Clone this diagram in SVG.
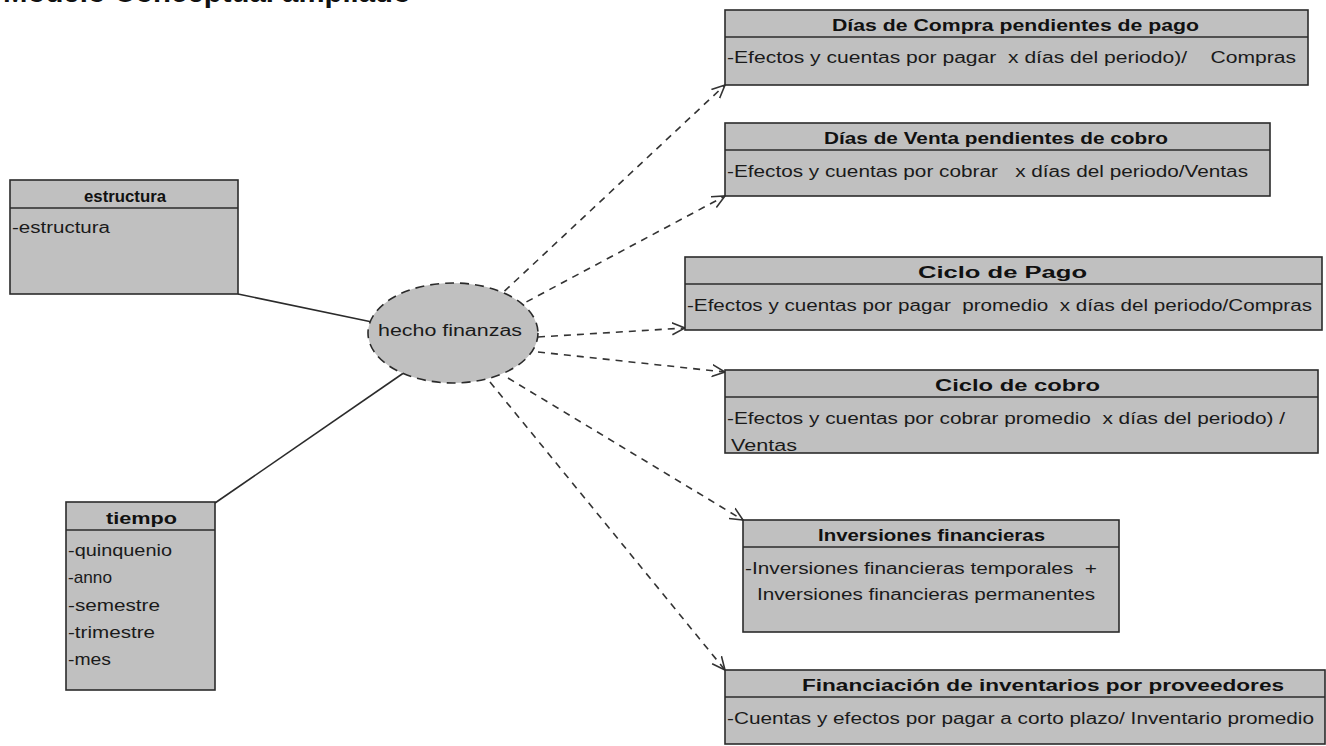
<svg xmlns="http://www.w3.org/2000/svg" width="1326" height="746" viewBox="0 0 1326 746">
  <style>
    .box { fill: #c0c0c0; stroke: #2b2b2b; stroke-width: 1.6; }
    .div { stroke: #2b2b2b; stroke-width: 1.6; }
    .ttl { font-family: "Liberation Sans", Arial, sans-serif; font-size: 16px; font-weight: bold; fill: #111; }
    .txt { font-family: "Liberation Sans", Arial, sans-serif; font-size: 16px; fill: #1a1a1a; }
    .item { font-family: "Liberation Sans", Arial, sans-serif; font-size: 17px; fill: #1a1a1a; }
    .solid { stroke: #2b2b2b; stroke-width: 1.6; fill: none; }
    .dash { stroke: #333; stroke-width: 1.6; fill: none; stroke-dasharray: 7 6; marker-end: url(#open); }
  </style>
  <defs>
    <marker id="open" viewBox="0 0 14 14" refX="13" refY="7" markerWidth="14" markerHeight="14" markerUnits="userSpaceOnUse" orient="auto">
      <path d="M0,1 L13,7 L0,13" fill="none" stroke="#333" stroke-width="1.6"/>
    </marker>
  </defs>
  <rect width="1326" height="746" fill="#ffffff"/>

  <!-- heading, clipped by the top edge -->
  <text x="3" y="1.5" font-family="Liberation Sans, Arial, sans-serif" font-size="29" font-weight="bold" fill="#111" textLength="408" lengthAdjust="spacingAndGlyphs">Modelo Conceptual ampliado</text>

  <!-- connectors -->
  <g id="connectors">
    <line class="solid" x1="238" y1="294" x2="372" y2="322"/>
    <line class="solid" x1="215" y1="503" x2="405" y2="372"/>
    <line class="dash" x1="495" y1="300" x2="725" y2="85"/>
    <line class="dash" x1="515" y1="308" x2="725" y2="196"/>
    <line class="dash" x1="538" y1="337" x2="685" y2="328"/>
    <line class="dash" x1="538" y1="352" x2="725" y2="372"/>
    <line class="dash" x1="508" y1="378" x2="743" y2="520"/>
    <line class="dash" x1="490" y1="382" x2="725" y2="670"/>
  </g>

  <!-- fact -->
  <g id="hecho-finanzas">
    <ellipse cx="453" cy="333" rx="85" ry="50" fill="#c0c0c0" stroke="#2b2b2b" stroke-width="1.6" stroke-dasharray="9 6"/>
    <text class="txt" x="378" y="336" textLength="144" lengthAdjust="spacingAndGlyphs">hecho finanzas</text>
  </g>

  <!-- dimension: estructura -->
  <g id="estructura">
    <rect class="box" x="10" y="180" width="228" height="114"/>
    <line class="div" x1="10" y1="208" x2="238" y2="208"/>
    <text class="ttl" x="84" y="202" textLength="82" lengthAdjust="spacingAndGlyphs">estructura</text>
    <text class="txt" x="12" y="233" textLength="98" lengthAdjust="spacingAndGlyphs">-estructura</text>
  </g>

  <!-- dimension: tiempo -->
  <g id="tiempo">
    <rect class="box" x="66" y="502" width="149" height="188"/>
    <line class="div" x1="66" y1="530" x2="215" y2="530"/>
    <text class="ttl" x="106" y="524" textLength="71" lengthAdjust="spacingAndGlyphs">tiempo</text>
    <text class="item" x="68" y="556" textLength="104" lengthAdjust="spacingAndGlyphs">-quinquenio</text>
    <text class="item" x="68" y="583" textLength="44" lengthAdjust="spacingAndGlyphs">-anno</text>
    <text class="item" x="68" y="611" textLength="92" lengthAdjust="spacingAndGlyphs">-semestre</text>
    <text class="item" x="68" y="638" textLength="87" lengthAdjust="spacingAndGlyphs">-trimestre</text>
    <text class="item" x="68" y="665" textLength="43" lengthAdjust="spacingAndGlyphs">-mes</text>
  </g>

  <!-- indicators -->
  <g id="dias-compra">
    <rect class="box" x="725" y="10" width="583" height="75"/>
    <line class="div" x1="725" y1="37" x2="1308" y2="37"/>
    <text class="ttl" x="832" y="31" textLength="367" lengthAdjust="spacingAndGlyphs">Días de Compra pendientes de pago</text>
    <text class="txt" x="727" y="63" textLength="569" lengthAdjust="spacingAndGlyphs" xml:space="preserve">-Efectos y cuentas por pagar  x días del periodo)/    Compras</text>
  </g>

  <g id="dias-venta">
    <rect class="box" x="725" y="123" width="545" height="73"/>
    <line class="div" x1="725" y1="150" x2="1270" y2="150"/>
    <text class="ttl" x="824" y="144" textLength="344" lengthAdjust="spacingAndGlyphs">Días de Venta pendientes de cobro</text>
    <text class="txt" x="727" y="177" textLength="521" lengthAdjust="spacingAndGlyphs" xml:space="preserve">-Efectos y cuentas por cobrar   x días del periodo/Ventas</text>
  </g>

  <g id="ciclo-pago">
    <rect class="box" x="685" y="257" width="637" height="73"/>
    <line class="div" x1="685" y1="284" x2="1322" y2="284"/>
    <text class="ttl" x="918" y="278" textLength="169" lengthAdjust="spacingAndGlyphs">Ciclo de Pago</text>
    <text class="txt" x="687" y="311" textLength="625" lengthAdjust="spacingAndGlyphs" xml:space="preserve">-Efectos y cuentas por pagar  promedio  x días del periodo/Compras</text>
  </g>

  <g id="ciclo-cobro">
    <rect class="box" x="725" y="370" width="593" height="83"/>
    <line class="div" x1="725" y1="397" x2="1318" y2="397"/>
    <text class="ttl" x="935" y="391" textLength="165" lengthAdjust="spacingAndGlyphs">Ciclo de cobro</text>
    <text class="txt" x="727" y="424" textLength="558" lengthAdjust="spacingAndGlyphs" xml:space="preserve">-Efectos y cuentas por cobrar promedio  x días del periodo) /</text>
    <text class="txt" x="731" y="451" textLength="66" lengthAdjust="spacingAndGlyphs">Ventas</text>
  </g>

  <g id="inversiones">
    <rect class="box" x="743" y="520" width="376" height="112"/>
    <line class="div" x1="743" y1="547" x2="1119" y2="547"/>
    <text class="ttl" x="818" y="541" textLength="227" lengthAdjust="spacingAndGlyphs">Inversiones financieras</text>
    <text class="txt" x="745" y="574" textLength="352" lengthAdjust="spacingAndGlyphs" xml:space="preserve">-Inversiones financieras temporales  +</text>
    <text class="txt" x="757" y="600" textLength="338" lengthAdjust="spacingAndGlyphs">Inversiones financieras permanentes</text>
  </g>

  <g id="financiacion">
    <rect class="box" x="725" y="670" width="600" height="74"/>
    <line class="div" x1="725" y1="697" x2="1325" y2="697"/>
    <text class="ttl" x="802" y="691" textLength="482" lengthAdjust="spacingAndGlyphs">Financiación de inventarios por proveedores</text>
    <text class="txt" x="727" y="724" textLength="587" lengthAdjust="spacingAndGlyphs">-Cuentas y efectos por pagar a corto plazo/ Inventario promedio</text>
  </g>
</svg>
